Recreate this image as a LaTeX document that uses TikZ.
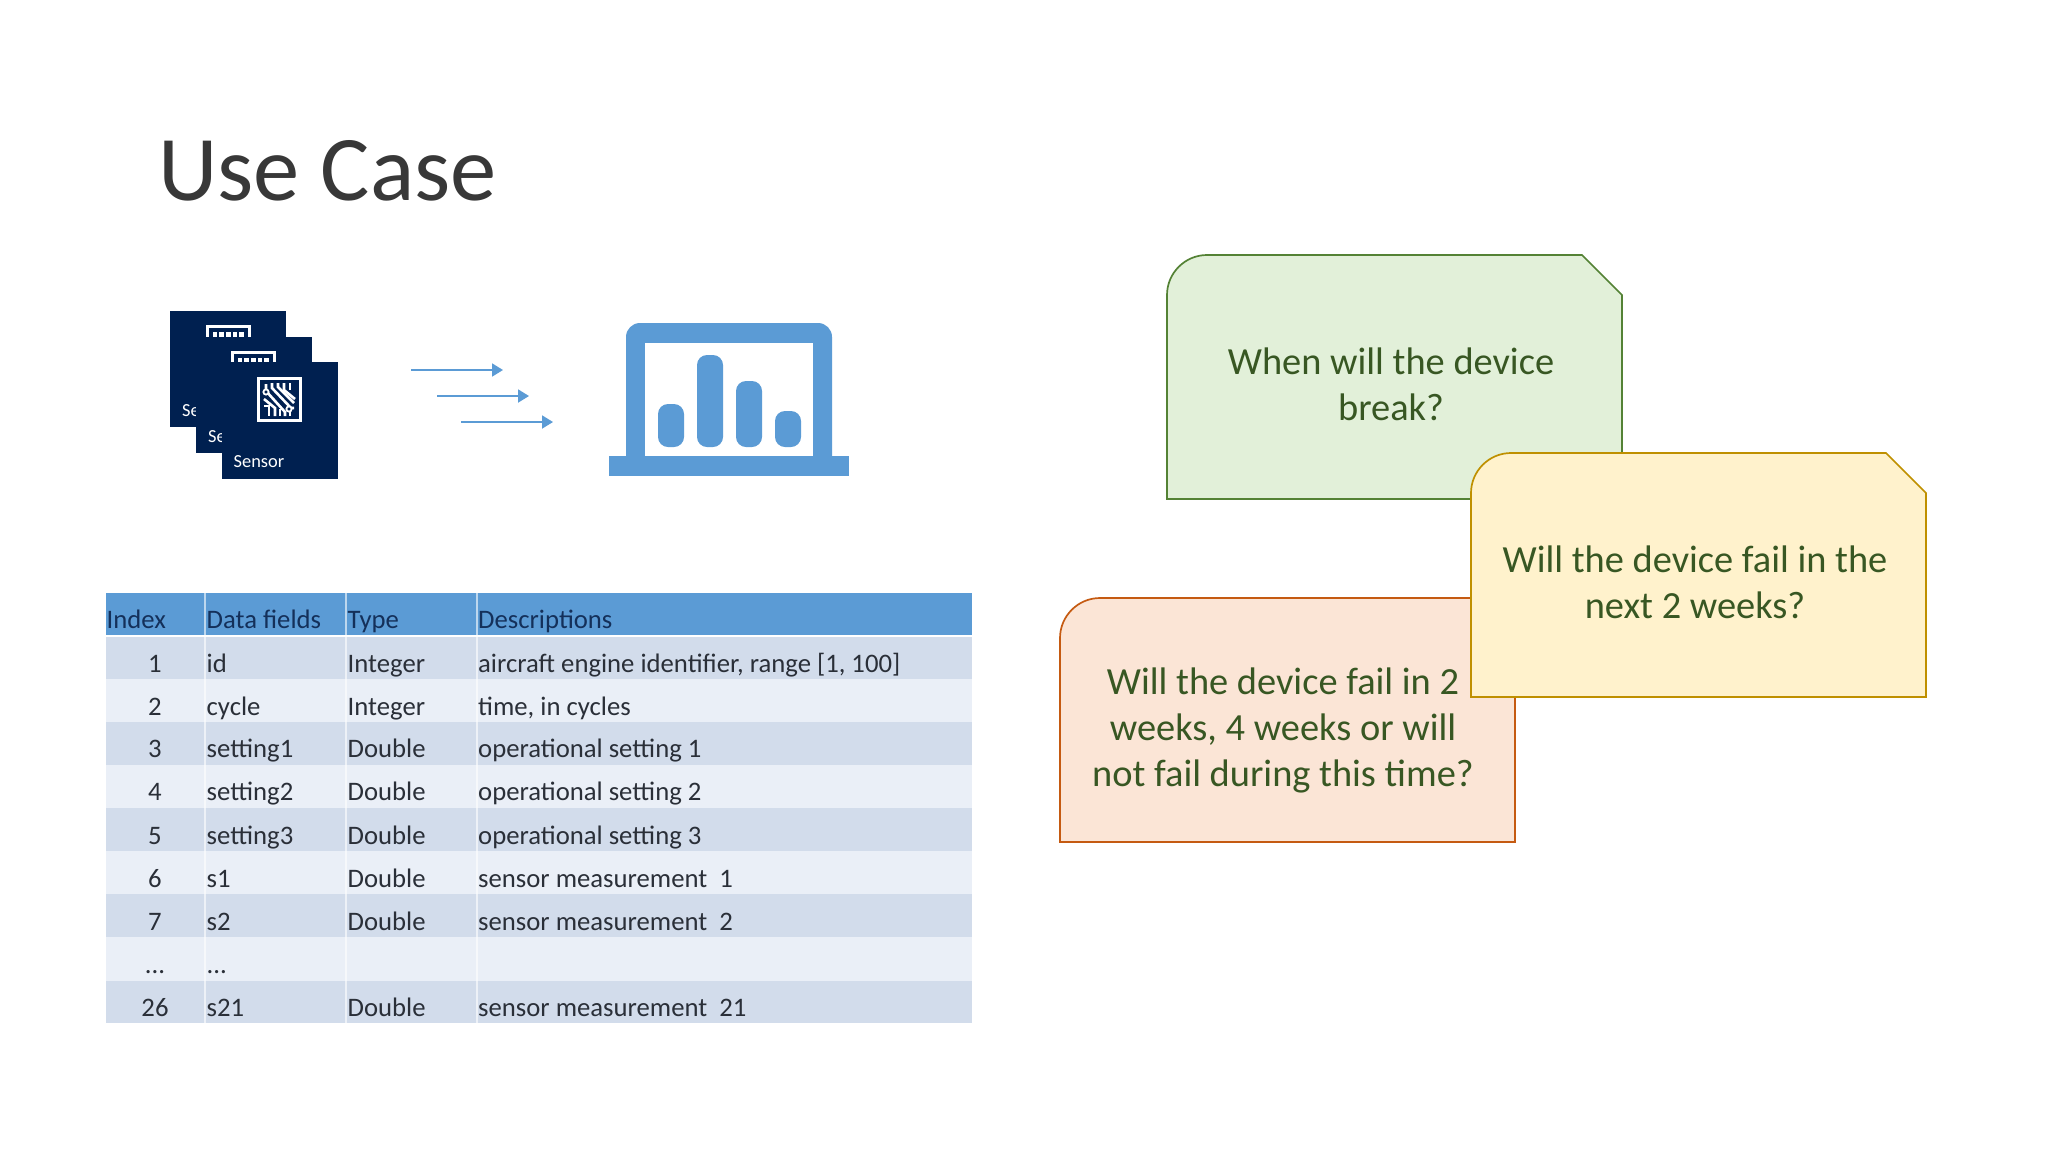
\documentclass[tikz,border=0pt]{standalone}
\usepackage{fontspec}
\setmainfont{Carlito}
\usetikzlibrary{arrows.meta}
\definecolor{navy}{HTML}{002050}
\definecolor{sky}{HTML}{5B9BD5}
\definecolor{rowa}{HTML}{D2DCEB}
\definecolor{rowb}{HTML}{EAEFF7}
\definecolor{ink}{HTML}{385723}
\definecolor{cellink}{HTML}{2A2F38}
\definecolor{headink}{HTML}{14305A}
\newcommand{\tdots}{...}
\tikzset{
  px/.style={x=1pt,y=-1pt},
  sensorbox/.style={fill=navy,draw=none},
  sensorlabel/.style={text=white,font=\fontsize{18.4}{20}\selectfont,anchor=base west,inner sep=0pt},
  flow/.style={draw=sky,line width=1.8pt,-{Triangle[length=11pt,width=13pt]}},
  bar/.style={fill=sky,draw=none,rounded corners=10pt},
  card/.style={line width=1.7pt},
  cardtext/.style={text=ink,font=\fontsize{38.4}{46}\selectfont,align=center,inner sep=0pt},
  cell/.style={text=cellink,font=\fontsize{26.7}{30}\selectfont,anchor=base west,inner sep=0pt},
  idx/.style={text=cellink,font=\fontsize{26.7}{30}\selectfont,anchor=base,inner sep=0pt},
  headcell/.style={text=headink,font=\fontsize{26.7}{30}\selectfont,anchor=base west,inner sep=0pt},
}
\newcommand{\cardshape}[5]{% x0 y0 x1 y1 colours
  \path[#5] (#1+40,#2) -- (#3-40,#2) -- (#3,#2+40) -- (#3,#4) -- (#1,#4) -- (#1,#2+40)
    .. controls (#1,#2+18) and (#1+18,#2) .. (#1+40,#2) -- cycle;}
\newcommand{\chiptop}[2]{% left x, top y of a partly hidden chip icon
  \draw[white,line width=3pt] (#1+1.5,#2+12) -- (#1+1.5,#2+1.5) -- (#1+43.5,#2+1.5) -- (#1+43.5,#2+12);
  \foreach \dx/\w in {7/4,13/5,20/5,27/4,33/5}
    \fill[white] (#1+\dx,#2+7) rectangle (#1+\dx+\w,#2+12);}
\begin{document}
\begin{tikzpicture}[px]
\useasboundingbox (0,0) rectangle (2048,1152);
\fill[white] (0,0) rectangle (2048,1152);
\node[anchor=base west,inner sep=0pt,text=black!78,font=\fontsize{92.5}{100}\selectfont] (title) at (158,200) {Use Case};

% sensors
\fill[sensorbox] (170,311) rectangle (286,427);
\chiptop{206}{325}
\node[sensorlabel] (s1) at (182,416) {Sensor};
\fill[sensorbox] (196,337) rectangle (312,453);
\chiptop{231}{351}
\node[sensorlabel] (s2) at (208,442) {Sensor};
\fill[sensorbox] (222,362) rectangle (338,479);
\node[sensorlabel] (s3) at (233.5,467) {Sensor};
\draw[white,line width=3.5pt] (258.5,378.5) rectangle (300.5,420.5);
\begin{scope}[white,line width=2.6pt]
  \draw (266,384) -- (266,391) -- (285,412) -- (285,416);
  \draw (272,383) -- (272,388) -- (291,408) -- (294,408);
  \draw (278,383) -- (278,387) -- (294,403);
  \draw (284,383) -- (284,390) -- (295,399);
  \draw (290,383) -- (290,390);
  \draw (264,399) -- (275,408) -- (275,416);
  \draw (264,406) -- (269,406) -- (269,416);
  \draw (280,409) -- (280,416);
  \draw (290,412) -- (290,416);
  \draw[fill=navy,line width=1.8pt] (266,392) circle (2.6);
  \draw[fill=navy,line width=1.8pt] (289,409) circle (2.6);
\end{scope}

% flow arrows
\coordinate (a1s) at (411,370); \coordinate (a1e) at (503,370);
\coordinate (a2s) at (437,396); \coordinate (a2e) at (529,396);
\coordinate (a3s) at (461,422); \coordinate (a3e) at (553,422);
\draw[flow] (a1s) -- (a1e);
\draw[flow] (a2s) -- (a2e);
\draw[flow] (a3s) -- (a3e);

% laptop
\fill[sky,rounded corners=14pt] (626,323) rectangle (832,470);
\fill[white] (645,343) rectangle (813,456);
\fill[sky] (609,456) rectangle (849,476);
\fill[bar] (658,404) rectangle (684,447);
\fill[bar] (697,355) rectangle (723,447);
\fill[bar] (736,381) rectangle (762,447);
\fill[bar] (775,411) rectangle (801,447);

% table
\fill[sky] (106,593) rectangle (972,635);
\foreach \ya/\yb/\c in {637/679/rowa,679/722/rowb,722/765/rowa,765/808/rowb,808/851/rowa,851/894/rowb,894/937/rowa,937/981/rowb,981/1023/rowa}
  \fill[\c] (106,\ya) rectangle (972,\yb);
\foreach \xx in {205,346,477}
  \fill[white,opacity=.6] (\xx-1,593) rectangle (\xx+1,1023);
\fill[white,opacity=.75] (106,635) rectangle (972,637);
\node[headcell] (h1) at (106.5,628.5) {Index};
\node[headcell] (h2) at (206.5,628.5) {Data fields};
\node[headcell] (h3) at (347.5,628.5) {Type};
\node[headcell] (h4) at (478,628.5) {Descriptions};
\foreach \y/\i/\f/\t/\d in {
  672/1/id/Integer/{aircraft engine identifier, range [1, 100]},
  715/2/cycle/Integer/{time, in cycles},
  757.5/3/setting1/Double/operational setting 1,
  800.5/4/setting2/Double/operational setting 2,
  844/5/setting3/Double/operational setting 3,
  887/6/s1/Double/{sensor measurement\ \ 1},
  930/7/s2/Double/{sensor measurement\ \ 2},
  973/\tdots/\tdots/{}/{},
  1016/26/s21/Double/{sensor measurement\ \ 21}}{
  \node[idx] at (155,\y) {\i};
  \node[cell] at (206.5,\y) {\f};
  \node[cell] at (347.5,\y) {\t};
  \node[cell] at (478,\y) {\d};
}

% cards
\cardshape{1167}{255}{1622}{499}{fill={rgb,255:red,226;green,240;blue,217},draw={rgb,255:red,84;green,130;blue,53},card}
\node[cardtext] (q1) at (1391,384) {When will the device\\break?};
\cardshape{1060}{598}{1515}{842}{fill={rgb,255:red,251;green,229;blue,214},draw={rgb,255:red,197;green,90;blue,17},card}
\node[cardtext] (q3) at (1283,730.5) {Will the device fail in 2\\weeks, 4 weeks or will\\not fail during this time?};
\cardshape{1471}{453}{1926}{697}{fill={rgb,255:red,255;green,242;blue,204},draw={rgb,255:red,191;green,144;blue,0},card}
\node[cardtext] (q2) at (1695,582) {Will the device fail in the\\next 2 weeks?};
\end{tikzpicture}
\end{document}
